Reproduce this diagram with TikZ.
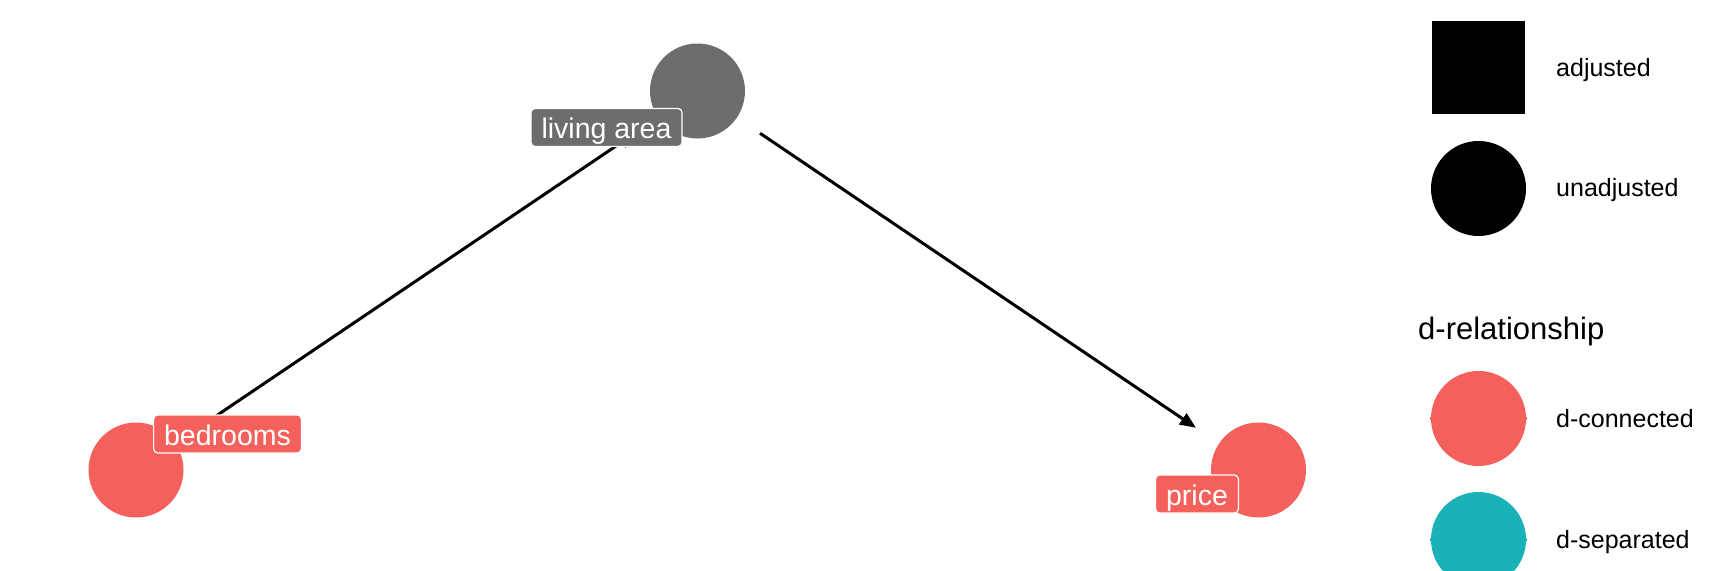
\documentclass[tikz,border=0pt]{standalone}
\usepackage{fontspec}
\setmainfont{Liberation Sans}
\usetikzlibrary{arrows.meta}
\definecolor{dred}{RGB}{244,97,92}
\definecolor{dteal}{RGB}{26,178,184}
\definecolor{dgray}{RGB}{109,109,109}
\begin{document}
\begin{tikzpicture}[x=1pt,y=-1pt,
 dagnode/.style={circle,minimum size=95pt,inner sep=0pt,outer sep=0pt,draw=none},
 daglabel/.style={rounded corners=4pt,draw=white,line width=1.2pt,text=white,font=\fontsize{28.5}{34}\selectfont,inner xsep=10.5pt,inner ysep=0pt,text height=30pt,text depth=8pt},
 dagedge/.style={line width=3pt,shorten <=28pt,shorten >=28pt,-{Triangle[length=16pt,width=13pt]}},
 legtext/.style={font=\fontsize{25}{30}\selectfont,anchor=base west,inner sep=0pt},
 legtitle/.style={font=\fontsize{31}{36}\selectfont,anchor=base west,inner sep=0pt},
]
\useasboundingbox (0,0) rectangle (1728,570);
% DAG nodes
\node[dagnode,fill=dred] (bed) at (136,470) {};
\node[dagnode,fill=dgray] (liv) at (697.5,91) {};
\node[dagnode,fill=dred] (pri) at (1258.5,470) {};
% edges
\draw[dagedge] (bed) -- (liv);
\draw[dagedge] (liv) -- (pri);
% labels
\node[daglabel,fill=dred] (bedl) at (227.5,434) {bedrooms};
\node[daglabel,fill=dgray] (livl) at (606.5,127.5) {living area};
\node[daglabel,fill=dred] (pril) at (1197,494) {price};
% legend
\node[rectangle,fill=black,minimum size=93pt,inner sep=0pt] (ladj) at (1478.5,67.5) {};
\node[legtext] (tadj) at (1556,76.7) {adjusted};
\node[circle,fill=black,minimum size=95pt,inner sep=0pt] (lunadj) at (1478.5,188.5) {};
\node[legtext] (tunadj) at (1556,196.7) {unadjusted};
\node[legtitle] (ttitle) at (1418,339) {d-relationship};
\draw[dred,line width=3pt] (1430,418.5) -- (1527,418.5);
\node[circle,fill=dred,minimum size=95pt,inner sep=0pt] (lcon) at (1478.5,418.5) {};
\node[legtext] (tcon) at (1556,427.7) {d-connected};
\draw[dteal,line width=3pt] (1430,539.5) -- (1527,539.5);
\node[circle,fill=dteal,minimum size=95pt,inner sep=0pt] (lsep) at (1478.5,539.5) {};
\node[legtext] (tsep) at (1556,548.3) {d-separated};
\end{tikzpicture}
\end{document}
